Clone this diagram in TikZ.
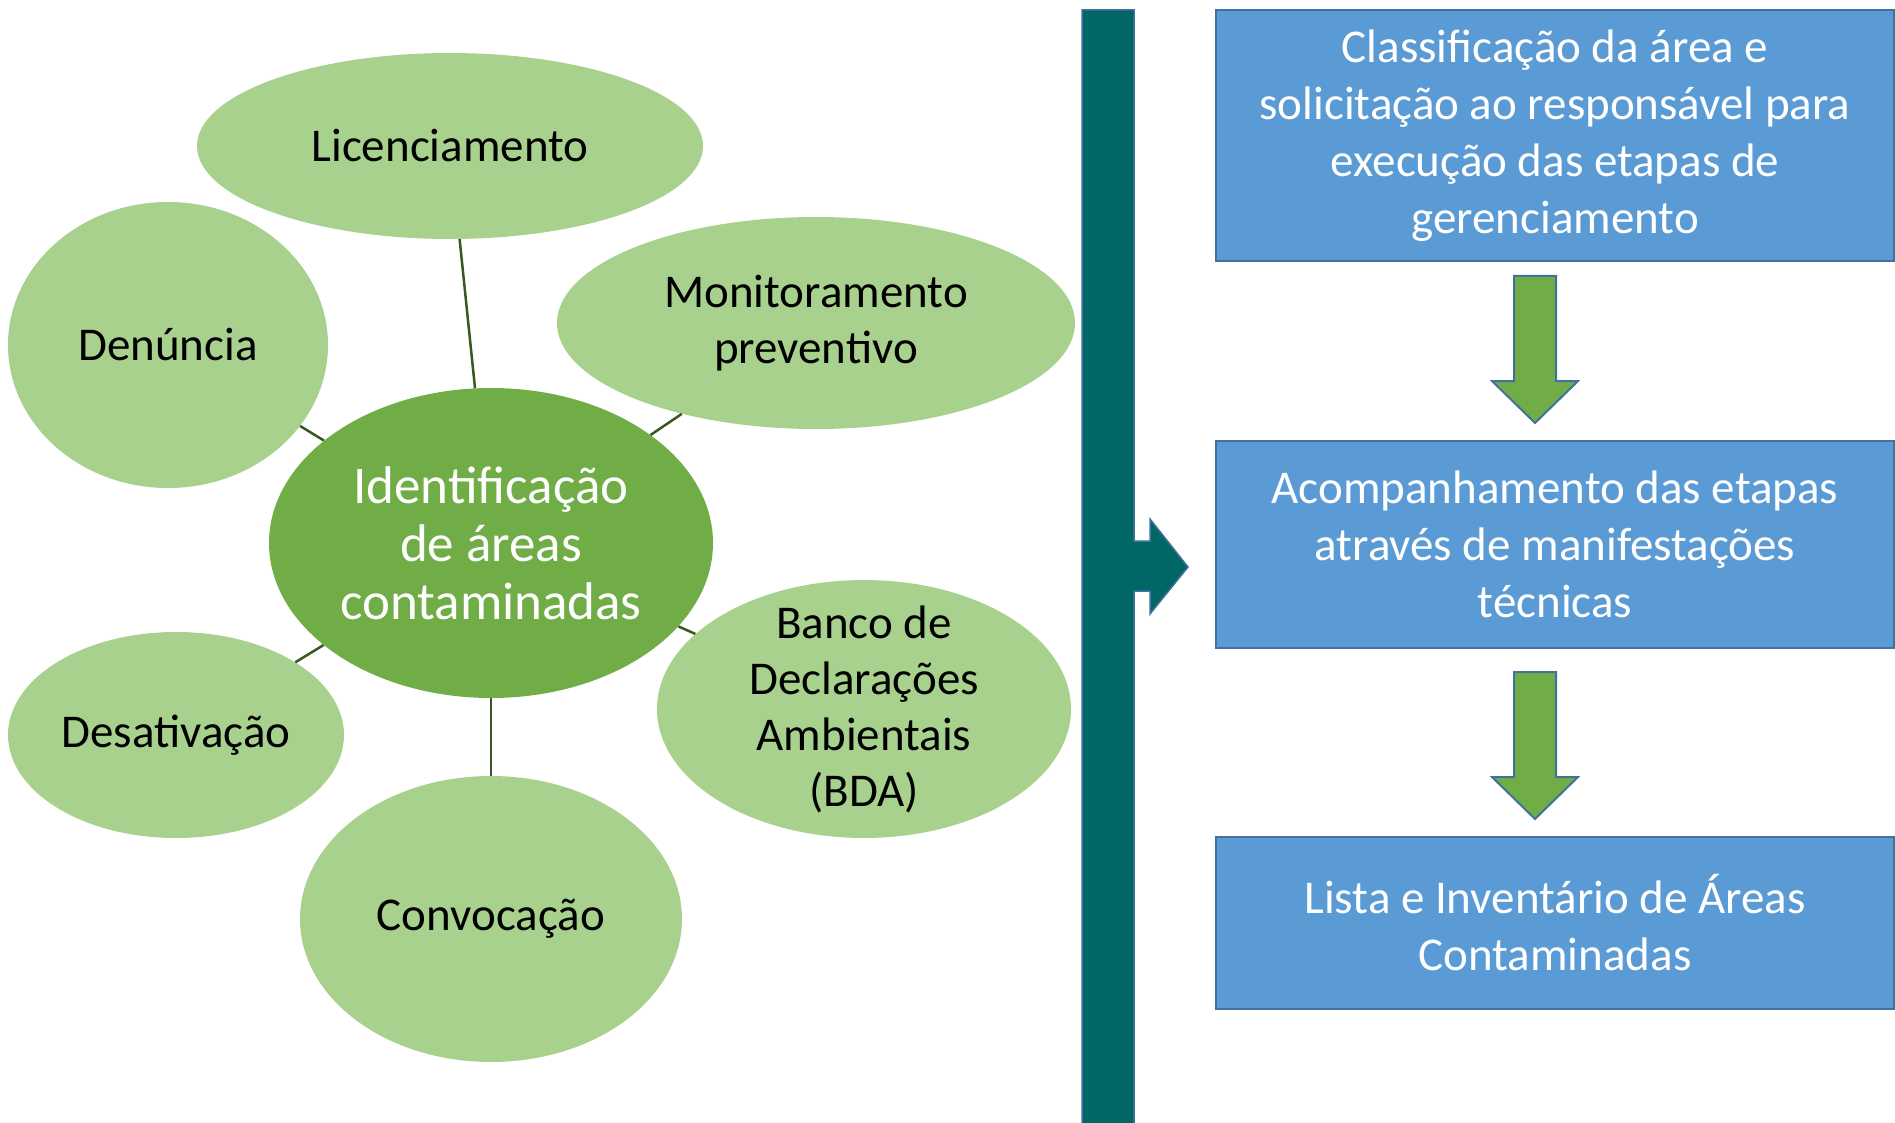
\documentclass[tikz,border=0pt]{standalone}
\usepackage{fontspec}
\setmainfont{Carlito}
\usetikzlibrary{calc, shapes.geometric}
\definecolor{leafL}{HTML}{A9D18E}
\definecolor{leafD}{HTML}{70AD47}
\definecolor{stemG}{HTML}{385723}
\definecolor{boxB}{HTML}{5B9BD5}
\definecolor{edgeB}{HTML}{41719C}
\definecolor{barT}{HTML}{006666}

\begin{document}
\begin{tikzpicture}[x = 1pt, y = -1pt,
  bubble/.style = {ellipse, fill = leafL, inner sep = 0pt},
  bubbletext/.style = {align = center, font = \fontsize{47}{56}\selectfont},
  stage/.style = {rectangle, draw = edgeB, line width = 2pt, fill = boxB, text = white,
    align = center, font = \fontsize{47}{57}\selectfont, inner sep = 0pt},
  spoke/.style = {draw = stemG, line width = 2.5pt}]
  \def\barL{1082}
  \def\barR{1134}
  \def\shaftW{21}
  \def\headW{43}
  \def\headL{42}
  \def\arrowL{147}

  \clip (0, 0) rectangle (1895, 1123);

  % ------------------------
  % identification bubbles
  % ------------------------

  \node[bubble, fill = leafD, minimum width = 444, minimum height = 310,
    label = {[bubbletext, text = white, font = \fontsize{53}{58}\selectfont]center:Identificação\\de áreas\\contaminadas}] (idf) at (491, 543) {};

  \node[bubble, minimum width = 506, minimum height = 186,
    label = {[bubbletext]center:Licenciamento}] (lic) at (450, 146) {};
  \node[bubble, minimum width = 320, minimum height = 286,
    label = {[bubbletext]center:Denúncia}] (den) at (168, 345) {};
  \node[bubble, minimum width = 518, minimum height = 212,
    label = {[bubbletext]center:Monitoramento\\preventivo}] (mon) at (816, 323) {};
  \node[bubble, minimum width = 414, minimum height = 258,
    label = {[bubbletext]center:Banco de\\Declarações\\Ambientais\\(BDA)}] (bda) at (864, 709) {};
  \node[bubble, minimum width = 336, minimum height = 206,
    label = {[bubbletext]center:Desativação}] (des) at (176, 735) {};
  \node[bubble, minimum width = 382, minimum height = 286,
    label = {[bubbletext]center:Convocação}] (con) at (491, 919) {};

  \foreach \leaf in {lic, den, mon, bda, des, con} {
    \draw[spoke] (idf) -- (\leaf);
  }

  % ------------------------
  % vertical bar with arrow
  % ------------------------

  \draw[fill = barT, draw = edgeB, line width = 1.5pt]
    (\barL, 10) -- (\barR, 10) -- (\barR, 541) -- (1150, 541) -- (1150, 519)
    -- (1188, 567) -- (1150, 614) -- (1150, 591) -- (\barR, 591)
    -- (\barR, 1140) -- (\barL, 1140) -- cycle;

  % ------------------------
  % management stages
  % ------------------------

  \node[stage, minimum width = 678, minimum height = 251] (cls) at (1555, 135.5)
    {Classificação da área e\\solicitação ao responsável para\\execução das etapas de\\gerenciamento};
  \node[stage, minimum width = 678, minimum height = 207] (acp) at (1555, 544.5)
    {Acompanhamento das etapas\\através de manifestações\\técnicas};
  \node[stage, minimum width = 678, minimum height = 172] (lst) at (1555, 923)
    {Lista e Inventário de Áreas\\Contaminadas};

  \foreach \from/\to in {cls/acp, acp/lst} {
    \coordinate (tip) at ($(\to.north) + (-20, -17)$);
    \draw[fill = leafD, draw = edgeB, line width = 2pt]
      ($(tip) + (-\shaftW, -\arrowL)$) -- ($(tip) + (\shaftW, -\arrowL)$)
      -- ($(tip) + (\shaftW, -\headL)$) -- ($(tip) + (\headW, -\headL)$)
      -- (tip) -- ($(tip) + (-\headW, -\headL)$)
      -- ($(tip) + (-\shaftW, -\headL)$) -- cycle;
  }
\end{tikzpicture}
\end{document}
